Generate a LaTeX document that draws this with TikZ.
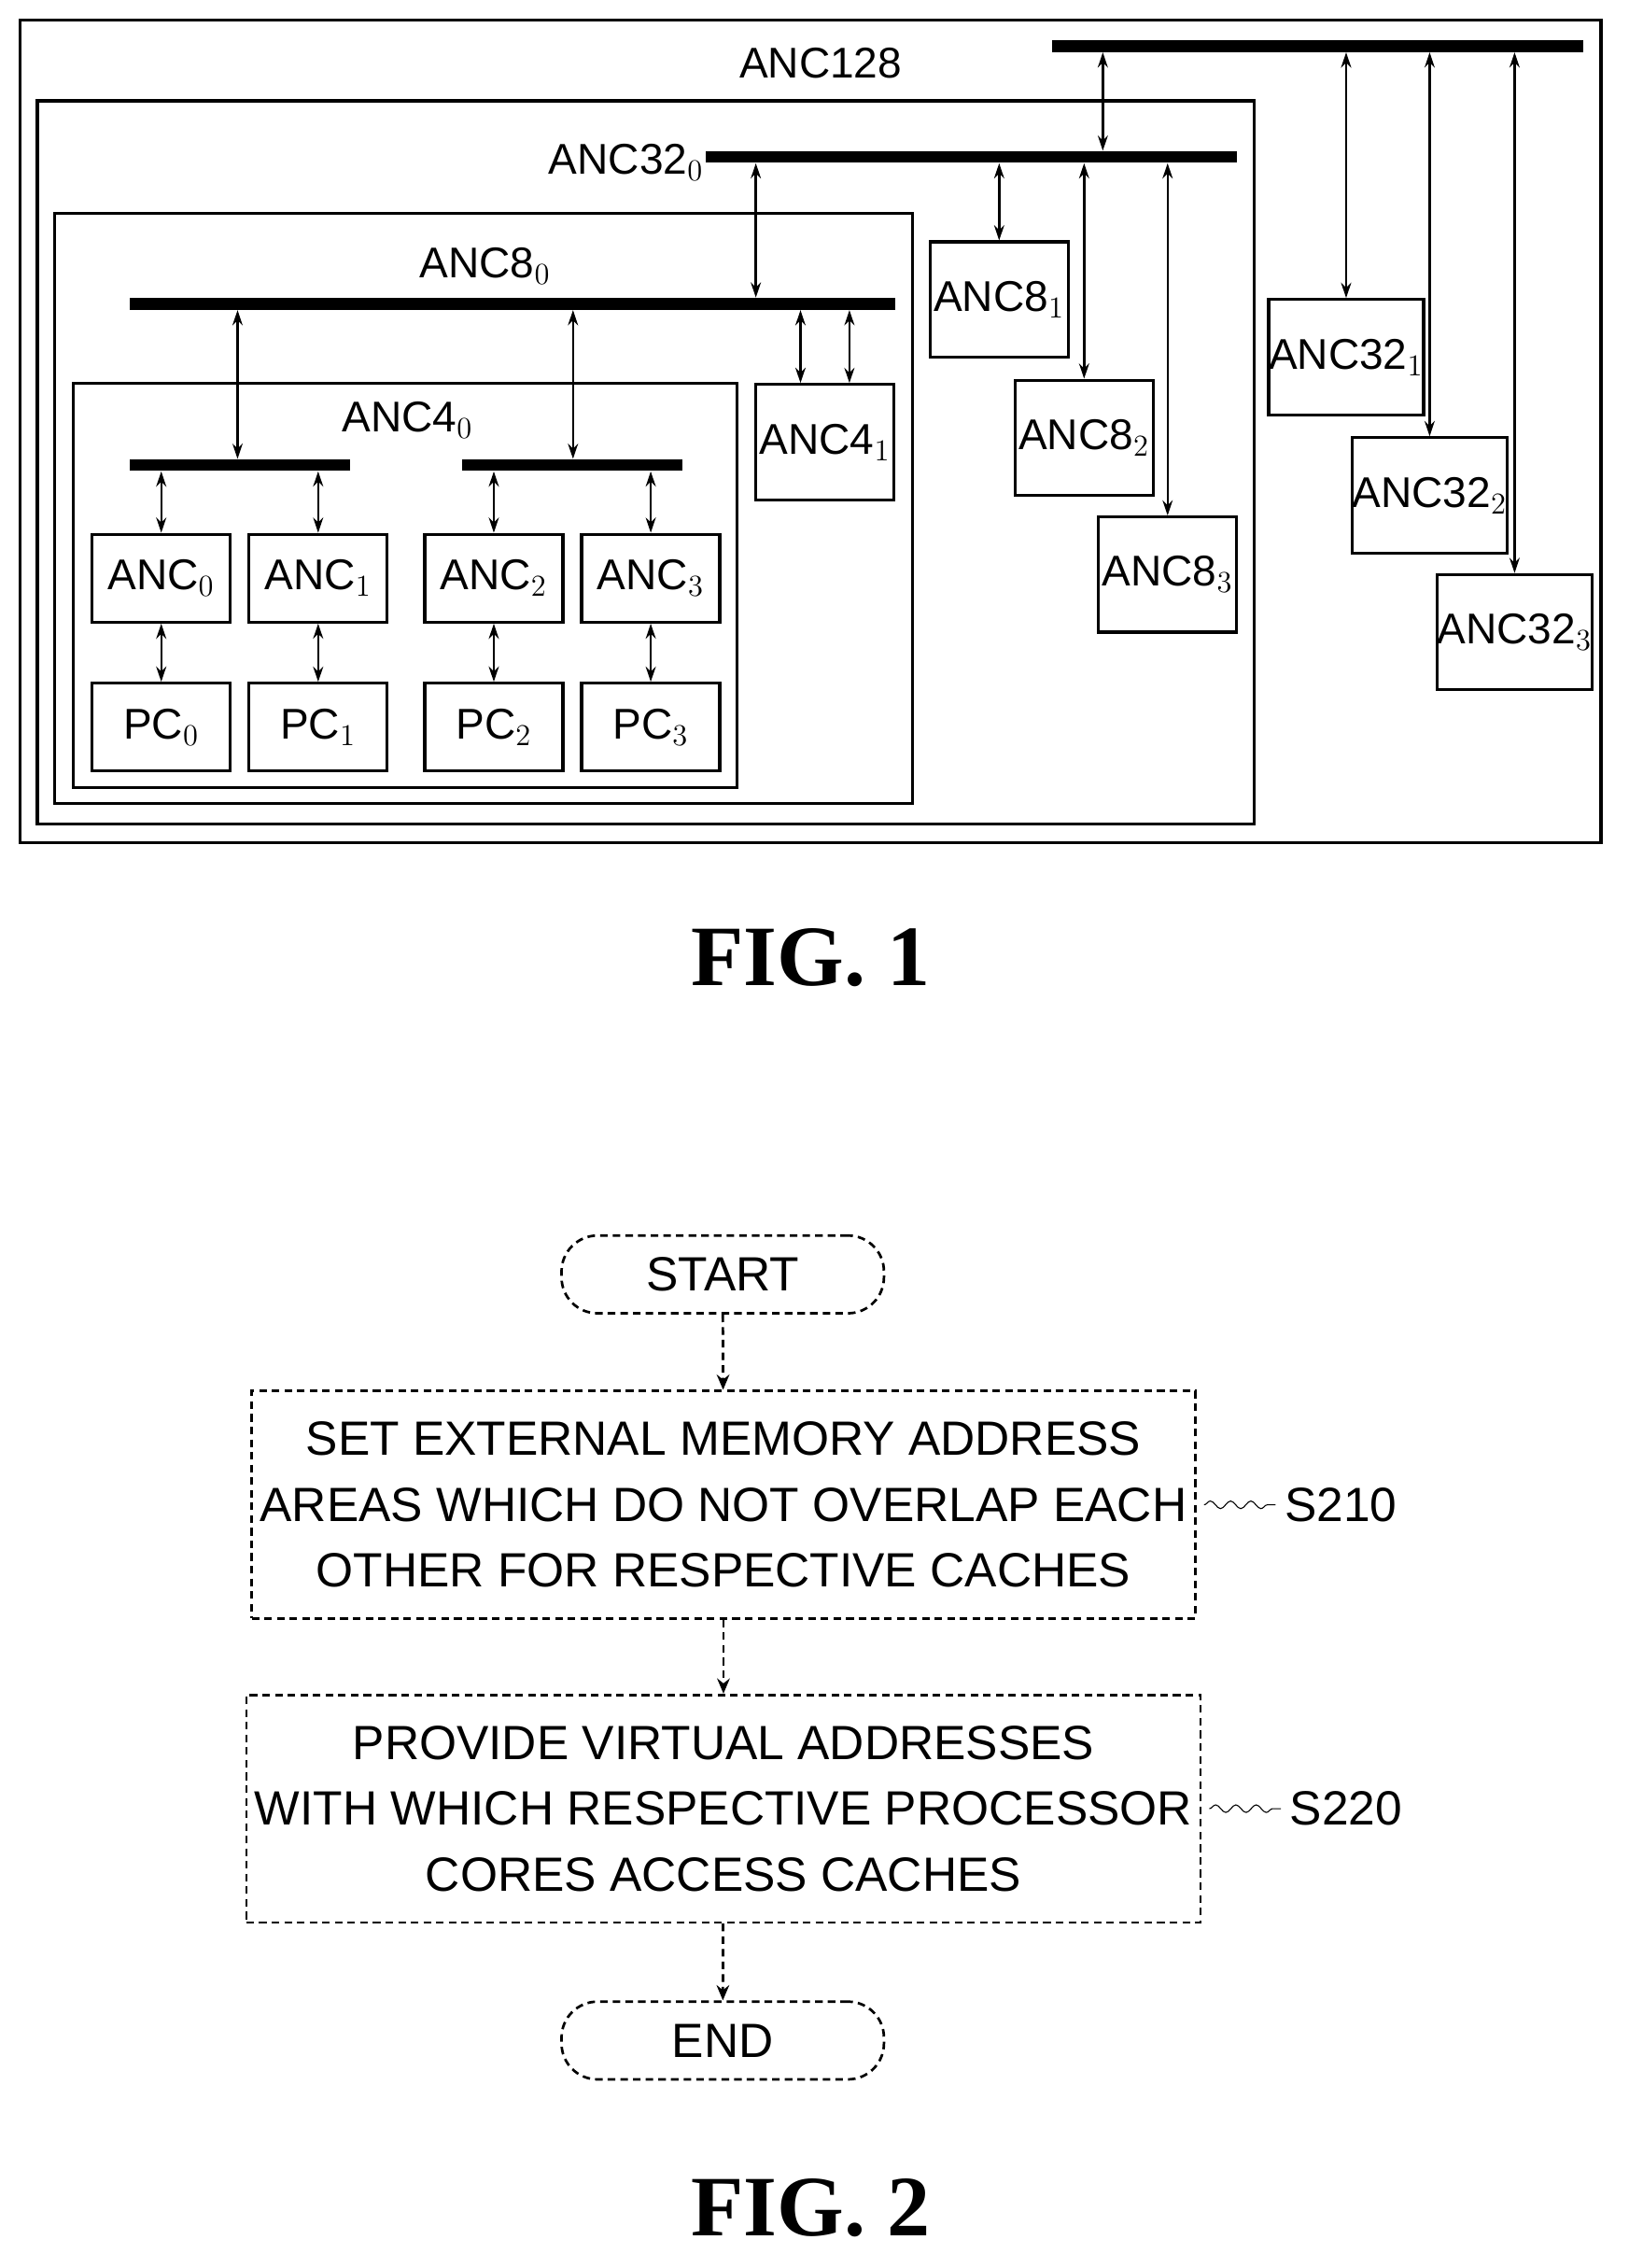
\documentclass[tikz,border=0pt]{standalone}
\usepackage{fontspec}
\setmainfont{Liberation Sans}
\newfontfamily\figfont{Liberation Serif}
\usetikzlibrary{arrows.meta,positioning,decorations.pathmorphing}
\tikzset{
  box/.style={draw, line width=1.2pt, minimum width=1.92cm, minimum height=1.22cm, inner sep=0pt, font=\fontsize{17}{17}\selectfont},
  tallbox/.style={box, minimum height=1.6cm},
  frame/.style={draw, line width=1.2pt},
  bus/.style={fill=black, inner sep=0pt, minimum height=0.16cm},
  dbl/.style={line width=0.9pt, {Stealth[length=6pt,width=4pt]}-{Stealth[length=6pt,width=4pt]}},
  lbl/.style={font=\fontsize{17}{17}\selectfont},
  stepbox/.style={draw, densely dashed, line width=1pt, minimum width=12.38cm, minimum height=3.16cm, align=center, font=\fontsize{19}{26}\selectfont},
  termbox/.style={draw, densely dashed, line width=1pt, rounded corners=0.5cm, minimum width=4.48cm, minimum height=1.08cm, font=\fontsize{19}{19}\selectfont},
  flow/.style={densely dashed, line width=1pt, -{Stealth[length=6pt,width=5pt]}},
  figcap/.style={font=\figfont\bfseries\fontsize{34}{34}\selectfont}
}
\begin{document}
\begin{tikzpicture}[x=0.02cm,y=-0.02cm]
  \useasboundingbox (0,0) rectangle (1131,1575);

  % FIG. 1 frames
  \draw[frame] (14,14) rectangle (1112,585);
  \draw[frame] (26,70) rectangle (871,572);
  \draw[frame] (38,148) rectangle (634,558);
  \draw[frame] (51,266) rectangle (512,547);

  \node[lbl] at (570,44) {ANC128};
  \node[lbl] at (435,113) {ANC32$_0$};
  \node[lbl] at (337,185) {ANC8$_0$};
  \node[lbl] at (283,292) {ANC4$_0$};

  % buses
  \node[bus, minimum width=7.38cm] (b128) at (915.5,32) {};
  \node[bus, minimum width=7.38cm] (b32) at (674.5,109) {};
  \node[bus, minimum width=10.64cm] (b8) at (356,211) {};
  \node[bus, minimum width=3.06cm] (b4a) at (166.5,323) {};
  \node[bus, minimum width=3.06cm] (b4b) at (397.5,323) {};

  % right-hand blocks
  \node[tallbox] (a41) at (573,307) {ANC4$_1$};
  \node[tallbox] (a81) at (694,208) {ANC8$_1$};
  \node[tallbox] (a82) at (753,304) {ANC8$_2$};
  \node[tallbox] (a83) at (811,399) {ANC8$_3$};
  \node[tallbox] (a321) at (935,248) {ANC32$_1$};
  \node[tallbox] (a322) at (993,344) {ANC32$_2$};
  \node[tallbox] (a323) at (1052,439) {ANC32$_3$};

  % bus links
  \coordinate (t32) at (766,0);
  \draw[dbl] (b128.south -| t32) -- (b32.north -| t32);
  \coordinate (t8) at (525,0);
  \draw[dbl] (b32.south -| t8) -- (b8.north -| t8);
  \foreach \n in {a321,a322,a323}
    \draw[dbl] (b128.south -| \n.north) -- (\n.north);
  \foreach \n in {a81,a82,a83}
    \draw[dbl] (b32.south -| \n.north) -- (\n.north);
  \coordinate (p1) at (556,0);
  \coordinate (p2) at (590,0);
  \draw[dbl] (b8.south -| p1) -- (a41.north -| p1);
  \draw[dbl] (b8.south -| p2) -- (a41.north -| p2);
  \coordinate (q1) at (165,0);
  \coordinate (q2) at (398,0);
  \draw[dbl] (b8.south -| q1) -- (b4a.north -| q1);
  \draw[dbl] (b8.south -| q2) -- (b4b.north -| q2);

  % leaf caches and cores
  \foreach \i/\x/\b in {0/112/b4a,1/221/b4a,2/343/b4b,3/452/b4b}{
    \node[box] (anc\i) at (\x,401.5) {ANC$_\i$};
    \node[box] (pc\i) at (\x,505) {PC$_\i$};
    \draw[dbl] (\b.south -| anc\i.north) -- (anc\i.north);
    \draw[dbl] (anc\i) -- (pc\i);
  }

  \node[figcap] at (563,665) {FIG. 1};

  % FIG. 2
  \node[termbox] (start) at (502,885) {START};
  \node[stepbox] (s210) at (502.5,1045) {SET EXTERNAL MEMORY ADDRESS\\AREAS WHICH DO NOT OVERLAP EACH\\OTHER FOR RESPECTIVE CACHES};
  \node[stepbox] (s220) at (502.5,1256) {PROVIDE VIRTUAL ADDRESSES\\WITH WHICH RESPECTIVE PROCESSOR\\CORES ACCESS CACHES};
  \node[termbox] (end) at (502,1417) {END};
  \draw[flow] (start) -- (s210);
  \draw[flow] (s210) -- (s220);
  \draw[flow] (s220) -- (end);

  \node[lbl, font=\fontsize{19}{19}\selectfont, right=1.1cm of s210.east] (l210) {S210};
  \node[lbl, font=\fontsize{19}{19}\selectfont, right=1.1cm of s220.east] (l220) {S220};
  \draw[decorate, decoration={snake, amplitude=1.5pt, segment length=8pt}] ([xshift=3pt]s210.east) -- (l210.west);
  \draw[decorate, decoration={snake, amplitude=1.5pt, segment length=8pt}] ([xshift=3pt]s220.east) -- (l220.west);

  \node[figcap] at (563,1533) {FIG. 2};
\end{tikzpicture}
\end{document}
